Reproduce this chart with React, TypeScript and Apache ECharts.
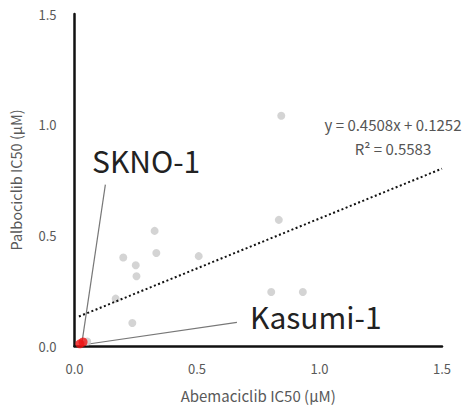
import React, { useEffect, useRef } from "react";
import * as echarts from "echarts";

const grayX = [0.327, 0.199, 0.334, 0.507, 0.25, 0.253, 0.168, 0.236, 0.052, 0.844, 0.834, 0.803, 0.932];
const grayY = [0.52, 0.40, 0.42, 0.406, 0.365, 0.315, 0.214, 0.104, 0.02, 1.04, 0.57, 0.244, 0.244];
const redX = [0.022, 0.035];
const redY = [0.01, 0.018];
const slope = 0.4508;
const intercept = 0.1252;
const trendX = [0.018, 1.5];
const sknoLeaderX = [0.03, 0.126];
const sknoLeaderY = [0.012, 0.729];
const kasumiLeaderX = [0.057, 0.663];
const kasumiLeaderY = [0.009, 0.107];

const FONT = "'Noto Sans CJK JP', 'Noto Sans', sans-serif";

export default function App() {
  const ref = useRef<HTMLDivElement>(null);
  useEffect(() => {
    if (!ref.current) return;
    const chart = echarts.init(ref.current, undefined, { renderer: "svg" });
    const zip = (xs: number[], ys: number[]) => xs.map((x, i) => [x, ys[i]]);
    chart.setOption({
      animation: false,
      grid: { left: 74, right: 28, top: 14, bottom: 63, containLabel: false },
      xAxis: {
        type: "value",
        min: 0,
        max: 1.5,
        interval: 0.5,
        name: "Abemaciclib IC50 (µM)",
        nameLocation: "middle",
        nameGap: 42,
        nameTextStyle: { color: "#595959", fontSize: 15, fontFamily: FONT },
        axisLine: { show: true, onZero: false, lineStyle: { color: "#111", width: 2.5 } },
        axisTick: { show: false },
        splitLine: { show: false },
        axisLabel: {
          color: "#595959",
          fontSize: 13,
          fontFamily: FONT,
          margin: 16,
          formatter: (v: number) => v.toFixed(1),
        },
      },
      yAxis: {
        type: "value",
        min: 0,
        max: 1.5,
        interval: 0.5,
        name: "Palbociclib IC50 (µM)",
        nameLocation: "middle",
        nameGap: 52,
        nameTextStyle: { color: "#595959", fontSize: 14.5, fontFamily: FONT },
        axisLine: { show: true, onZero: false, lineStyle: { color: "#111", width: 2.5 } },
        axisTick: { show: false },
        splitLine: { show: false },
        axisLabel: {
          color: "#595959",
          fontSize: 13,
          fontFamily: FONT,
          margin: 18,
          formatter: (v: number) => v.toFixed(1),
        },
      },
      graphic: [
        {
          type: "text",
          left: 92,
          top: 144.5,
          style: { text: "SKNO-1", fontSize: 30, fontFamily: FONT, fill: "#222" },
        },
        {
          type: "text",
          left: 250,
          top: 301,
          style: { text: "Kasumi-1", fontSize: 30, fontFamily: FONT, fill: "#222" },
        },
        {
          type: "text",
          x: 393,
          y: 124,
          style: {
            text: "y = 0.4508x + 0.1252",
            fontSize: 15,
            fontFamily: FONT,
            fill: "#555",
            textAlign: "center",
            textVerticalAlign: "middle",
          },
        },
        {
          type: "text",
          x: 393,
          y: 148,
          style: {
            text: "R² = 0.5583",
            fontSize: 15,
            fontFamily: FONT,
            fill: "#555",
            textAlign: "center",
            textVerticalAlign: "middle",
          },
        },
      ],
      series: [
        {
          type: "line",
          data: zip(sknoLeaderX, sknoLeaderY),
          symbol: "none",
          lineStyle: { color: "#777", width: 1.2 },
          silent: true,
          z: 1,
        },
        {
          type: "line",
          data: zip(kasumiLeaderX, kasumiLeaderY),
          symbol: "none",
          lineStyle: { color: "#777", width: 1.2 },
          silent: true,
          z: 1,
        },
        {
          type: "scatter",
          data: zip(grayX, grayY),
          symbolSize: 8,
          itemStyle: { color: "#c9c9c9" },
          z: 2,
        },
        {
          type: "line",
          data: trendX.map((x) => [x, slope * x + intercept]),
          symbol: "none",
          lineStyle: { color: "#111", width: 2, type: [2, 2.5] },
          z: 3,
        },
        {
          type: "scatter",
          data: zip(redX, redY),
          symbolSize: 9,
          itemStyle: { color: "#ee1111" },
          z: 4,
        },
      ],
    });
    return () => chart.dispose();
  }, []);
  return <div ref={ref} style={{ width: 470, height: 409, position: "absolute", left: 0, top: 0 }} />;
}
